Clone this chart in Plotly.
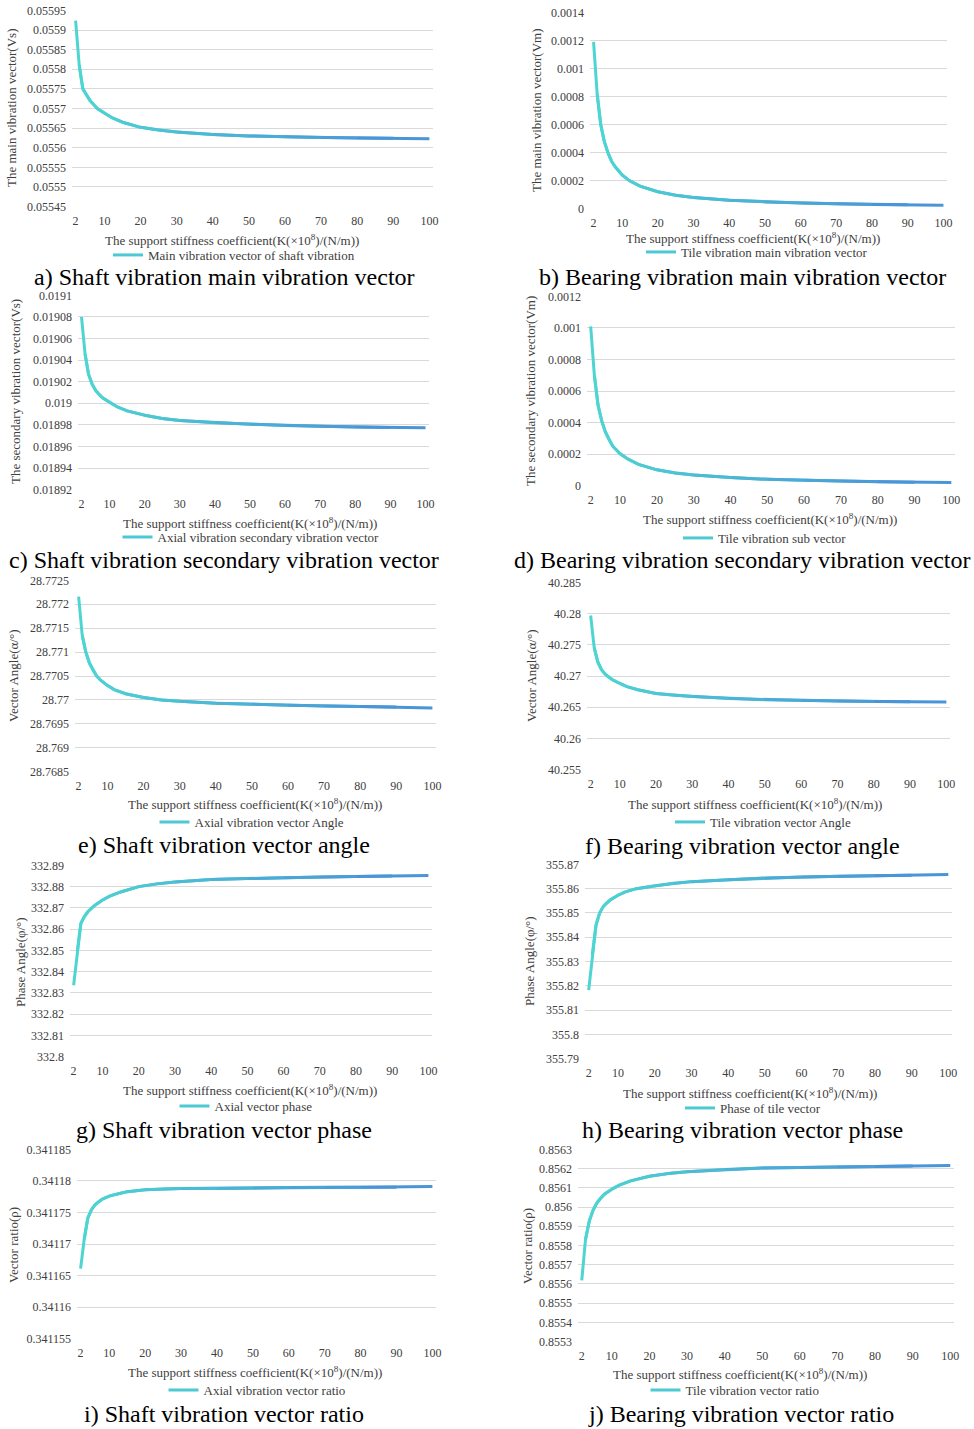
import plotly.graph_objects as go

# ---------------- data ----------------
K = [2, 3, 4, 5, 6, 7, 8, 10, 12, 15, 20, 25, 30, 40, 50, 60, 70, 80, 90, 100]
x_ticks = [2, 10, 20, 30, 40, 50, 60, 70, 80, 90, 100]

shaft_main = [0.055924, 0.05581, 0.05575, 0.055735, 0.05572, 0.05571, 0.0557, 0.055688,
              0.055677, 0.055665, 0.055652, 0.055645, 0.05564, 0.055634, 0.05563, 0.055628,
              0.055626, 0.055625, 0.055624, 0.055623]
bearing_main = [0.00119, 0.00082, 0.0006, 0.00048, 0.0004, 0.00034, 0.0003, 0.00024, 0.0002,
                0.00016, 0.00012, 0.000095, 0.00008, 0.00006, 0.000048, 0.00004, 0.000034,
                0.00003, 0.000027, 0.000024]
shaft_secondary = [0.01908, 0.019046, 0.019027, 0.019018, 0.019012, 0.019008, 0.019005, 0.019001,
                   0.018997, 0.018993, 0.018989, 0.018986, 0.018984, 0.018982, 0.0189806,
                   0.0189795, 0.0189787, 0.018978, 0.0189776, 0.0189773]
bearing_secondary = [0.00101, 0.0007, 0.00051, 0.00041, 0.00034, 0.00029, 0.00025, 0.000202,
                     0.00017, 0.000135, 0.0001, 0.00008, 0.000068, 0.000051, 0.00004, 0.000034,
                     0.000029, 0.000025, 0.000022, 0.00002]
shaft_angle = [28.77216, 28.77135, 28.7710, 28.77077, 28.77062, 28.7705, 28.77042, 28.7703,
               28.77021, 28.77013, 28.77005, 28.77, 28.76997, 28.76993, 28.76991, 28.76989,
               28.76987, 28.76986, 28.76985, 28.76983]
bearing_angle = [40.2797, 40.2745, 40.2722, 40.2710, 40.2703, 40.2698, 40.2694, 40.2688,
                 40.2683, 40.2678, 40.2672, 40.2669, 40.2667, 40.2664, 40.2662, 40.2661,
                 40.2660, 40.2659, 40.26587, 40.26585]
shaft_phase = [332.8336, 332.8495, 332.8627, 332.866, 332.8683, 332.870, 332.8714, 332.8737,
               332.8755, 332.8775, 332.880, 332.8813, 332.8822, 332.8834, 332.8838, 332.8842,
               332.8845, 332.8848, 332.885, 332.8852]
bearing_phase = [355.8182, 355.833, 355.845, 355.85, 355.8527, 355.8543, 355.8555, 355.8573,
                 355.8587, 355.860, 355.8612, 355.8622, 355.8629, 355.8637, 355.8644, 355.8648,
                 355.8651, 355.8653, 355.8655, 355.8658]
shaft_ratio = [0.3411661, 0.3411707, 0.3411741, 0.3411754, 0.3411762, 0.3411767, 0.3411771,
               0.3411776, 0.3411779, 0.3411783, 0.3411786, 0.3411787, 0.3411788, 0.3411788,
               0.3411789, 0.3411789, 0.341179, 0.341179, 0.341179, 0.3411791]
bearing_ratio = [0.855619, 0.855832, 0.855927, 0.855983, 0.856021, 0.856047, 0.856067, 0.856093,
                 0.856114, 0.856136, 0.85616, 0.856174, 0.856184, 0.856195, 0.856203, 0.856206,
                 0.856209, 0.856211, 0.856213, 0.856216]

yt_a = [0.05545, 0.0555, 0.05555, 0.0556, 0.05565, 0.0557, 0.05575, 0.0558, 0.05585, 0.0559, 0.05595]
yt_b = [0, 0.0002, 0.0004, 0.0006, 0.0008, 0.001, 0.0012, 0.0014]
yt_c = [0.01892, 0.01894, 0.01896, 0.01898, 0.019, 0.01902, 0.01904, 0.01906, 0.01908, 0.0191]
yt_d = [0, 0.0002, 0.0004, 0.0006, 0.0008, 0.001, 0.0012]
yt_e = [28.7685, 28.769, 28.7695, 28.77, 28.7705, 28.771, 28.7715, 28.772, 28.7725]
yt_f = [40.255, 40.26, 40.265, 40.27, 40.275, 40.28, 40.285]
yt_g = [332.8, 332.81, 332.82, 332.83, 332.84, 332.85, 332.86, 332.87, 332.88, 332.89]
yt_h = [355.79, 355.8, 355.81, 355.82, 355.83, 355.84, 355.85, 355.86, 355.87]
yt_i = [0.341155, 0.34116, 0.341165, 0.34117, 0.341175, 0.34118, 0.341185]
yt_j = [0.8553, 0.8554, 0.8555, 0.8556, 0.8557, 0.8558, 0.8559, 0.856, 0.8561, 0.8562, 0.8563]

x_title = "The support stiffness coefficient(K(×10<sup>8</sup>)/(N/m))"

# ---------------- layout helpers ----------------
W, H = 974, 1429
FONT = "Liberation Serif, 'Times New Roman', serif"
TXT = "#404040"
C0 = (0x4E, 0xD6, 0xD2)
C1 = (0x4A, 0x8E, 0xD8)


def px(x):
    return x / W


def py(y):
    return 1 - y / H


def mix(t):
    t = max(0.0, min(1.0, t))
    r, g, b = (round(C0[k] + (C1[k] - C0[k]) * t) for k in range(3))
    return f"rgb({r},{g},{b})"


def fmt(v):
    return f"{round(v, 10):g}"


panels = [
    dict(y=shaft_main, yt=yt_a, ytitle="The main vibration vector(Vs)",
         name="Main vibration vector of shaft vibration",
         cap="a) Shaft vibration main vibration vector",
         box=(72, 433, 10, 207), yt_pos=(12, 108), xt_pos=(232, 240), lg_pos=(234, 255), cap_pos=(224, 277)),
    dict(y=bearing_main, yt=yt_b, ytitle="The main vibration vector(Vm)",
         name="Tile vibration main vibration vector",
         cap="b) Bearing vibration main vibration vector",
         box=(590, 947, 12, 209), yt_pos=(537, 110), xt_pos=(753, 238), lg_pos=(757, 252), cap_pos=(742, 277)),
    dict(y=shaft_secondary, yt=yt_c, ytitle="The secondary vibration vector(Vs)",
         name="Axial vibration secondary vibration vector",
         cap="c) Shaft vibration secondary vibration vector",
         box=(78, 429, 295, 490), yt_pos=(16, 392), xt_pos=(250, 523), lg_pos=(251, 537), cap_pos=(224, 560)),
    dict(y=bearing_secondary, yt=yt_d, ytitle="The secondary vibration vector(Vm)",
         name="Tile vibration sub vector",
         cap="d) Bearing vibration secondary vibration vector",
         box=(587, 955, 296, 486), yt_pos=(530, 391), xt_pos=(770, 519), lg_pos=(765, 538), cap_pos=(742, 560)),
    dict(y=shaft_angle, yt=yt_e, ytitle="Vector Angle(α/°)",
         name="Axial vibration vector Angle",
         cap="e) Shaft vibration vector angle",
         box=(75, 436, 580, 772), yt_pos=(13, 676), xt_pos=(255, 804), lg_pos=(252, 822), cap_pos=(224, 845)),
    dict(y=bearing_angle, yt=yt_f, ytitle="Vector Angle(α/°)",
         name="Tile vibration vector Angle",
         cap="f) Bearing vibration vector angle",
         box=(587, 950, 582, 770), yt_pos=(531, 676), xt_pos=(755, 804), lg_pos=(763, 822), cap_pos=(742, 846)),
    dict(y=shaft_phase, yt=yt_g, ytitle="Phase Angle(φ/°)",
         name="Axial vector phase",
         cap="g) Shaft vibration vector phase",
         box=(70, 432, 865, 1057), yt_pos=(20, 962), xt_pos=(250, 1090), lg_pos=(246, 1106), cap_pos=(224, 1130)),
    dict(y=bearing_phase, yt=yt_h, ytitle="Phase Angle(φ/°)",
         name="Phase of tile vector",
         cap="h) Bearing vibration vector phase",
         box=(585, 952, 864, 1059), yt_pos=(529, 961), xt_pos=(750, 1093), lg_pos=(753, 1108), cap_pos=(742, 1130)),
    dict(y=shaft_ratio, yt=yt_i, ytitle="Vector ratio(ρ)",
         name="Axial vibration vector ratio",
         cap="i) Shaft vibration vector ratio",
         box=(77, 436, 1149, 1339), yt_pos=(13, 1245), xt_pos=(255, 1372), lg_pos=(257, 1390), cap_pos=(224, 1414)),
    dict(y=bearing_ratio, yt=yt_j, ytitle="Vector ratio(ρ)",
         name="Tile vibration vector ratio",
         cap="j) Bearing vibration vector ratio",
         box=(578, 954, 1149, 1342), yt_pos=(527, 1246), xt_pos=(740, 1374), lg_pos=(735, 1390), cap_pos=(741, 1414)),
]

fig = go.Figure()
layout = dict(width=W, height=H, margin=dict(l=0, r=0, t=0, b=0),
              paper_bgcolor="white", plot_bgcolor="white", template="none",
              font=dict(family=FONT, size=12, color=TXT), showlegend=True)
annotations = []

for i, p in enumerate(panels):
    n = i + 1
    xa = "x" if n == 1 else f"x{n}"
    ya = "y" if n == 1 else f"y{n}"
    lg = "legend" if n == 1 else f"legend{n}"
    l, r, t, b = p["box"]
    ys = p["y"]
    # gradient line: overlapping short pieces
    npts = len(K)
    mid_piece = (npts - 2) // 2
    for s in range(npts - 2):
        tcol = (K[s + 1] - K[0]) / (K[-1] - K[0])
        fig.add_trace(go.Scatter(
            x=K[s:s + 3], y=ys[s:s + 3], mode="lines",
            line=dict(color=mix(tcol), width=3),
            xaxis=xa, yaxis=ya, legend=lg, name=p["name"],
            showlegend=(s == mid_piece), hoverinfo="skip"))
    yt = p["yt"]
    span = yt[-1] - yt[0]
    layout["xaxis" if n == 1 else f"xaxis{n}"] = dict(
        domain=[px(l), px(r)], anchor=ya, range=[1, 101],
        tickmode="array", tickvals=x_ticks, ticktext=[str(v) for v in x_ticks],
        showgrid=False, zeroline=False, showline=False, ticks="",
        ticklabelstandoff=5, ticklabeloverflow="allow",
        tickfont=dict(family=FONT, size=12, color=TXT))
    layout["yaxis" if n == 1 else f"yaxis{n}"] = dict(
        domain=[py(b), py(t)], anchor=xa,
        range=[yt[0] - span * 0.002, yt[-1] + span * 0.002],
        tickmode="array", tickvals=yt, ticktext=[fmt(v) for v in yt],
        showgrid=True, gridcolor="#D9D9D9", gridwidth=1,
        zeroline=False, showline=False, ticks="",
        ticklabelstandoff=5, ticklabeloverflow="allow",
        tickfont=dict(family=FONT, size=12, color=TXT))
    layout[lg] = dict(x=px(p["lg_pos"][0]), y=py(p["lg_pos"][1]), xanchor="center", yanchor="middle",
                      orientation="h", bgcolor="rgba(0,0,0,0)", itemwidth=30,
                      font=dict(family=FONT, size=13, color=TXT))
    annotations.append(dict(text=p["ytitle"], x=px(p["yt_pos"][0]), y=py(p["yt_pos"][1]),
                            xref="paper", yref="paper", showarrow=False, textangle=-90,
                            xanchor="center", yanchor="middle",
                            font=dict(family=FONT, size=13, color=TXT)))
    annotations.append(dict(text=x_title, x=px(p["xt_pos"][0]), y=py(p["xt_pos"][1]),
                            xref="paper", yref="paper", showarrow=False,
                            xanchor="center", yanchor="middle",
                            font=dict(family=FONT, size=13, color=TXT)))
    annotations.append(dict(text=p["cap"], x=px(p["cap_pos"][0]), y=py(p["cap_pos"][1]),
                            xref="paper", yref="paper", showarrow=False,
                            xanchor="center", yanchor="middle",
                            font=dict(family=FONT, size=24, color="#000000")))

layout["annotations"] = annotations
fig.update_layout(**layout)
fig.write_html("out.html",
               config={"displayModeBar": False},
               post_script="document.body.style.margin='0px';document.body.style.overflow='hidden';")
